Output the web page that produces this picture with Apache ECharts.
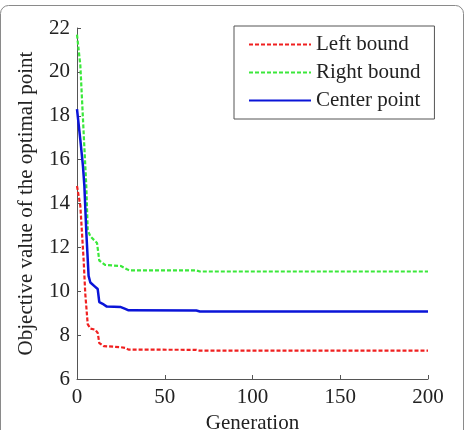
<!DOCTYPE html>
<html>
<head>
<meta charset="utf-8">
<script src="https://cdn.jsdelivr.net/npm/echarts@6/dist/echarts.min.js"></script>
<style>
  html, body { margin: 0; padding: 0; background: #fff; }
  #chart { width: 467px; height: 430px; }
</style>
</head>
<body>
<div id="chart"></div>
<script>
// values
const leftGen = [0, 1.9, 3.8, 4.7, 6.1, 7.6, 10.4, 11.8, 12.7, 15.2, 25, 27.5, 29.4, 68, 70, 200];
const leftVal = [14.8, 13.9, 11.4, 9.9, 8.5, 8.3, 8.25, 8.1, 7.64, 7.5, 7.45, 7.42, 7.34, 7.33, 7.29, 7.29];

const rightGen = [0, 1.9, 3.8, 5.3, 6.1, 7.6, 11.4, 12.7, 16, 25, 28.5, 30, 68, 70, 200];
const rightVal = [21.7, 20.3, 17.2, 14.8, 12.8, 12.5, 12.2, 11.4, 11.2, 11.15, 11.0, 10.95, 10.95, 10.9, 10.9];

const centerGen = [0, 1.9, 3.4, 4.2, 5.3, 6.6, 7.6, 10.4, 11.8, 12.7, 15.2, 17, 25, 27.5, 29.4, 68, 70, 200];
const centerVal = [18.3, 16.9, 15.7, 14.8, 12.7, 10.7, 10.4, 10.2, 10.1, 9.5, 9.4, 9.3, 9.28, 9.2, 9.13, 9.12, 9.08, 9.08];

const seriesNames = ['Left bound', 'Right bound', 'Center point'];

const pairs = (xs, ys) => xs.map((x, i) => [x, ys[i]]);

const font = 'Liberation Serif';
const chart = echarts.init(document.getElementById('chart'));

chart.setOption({
  animation: false,
  backgroundColor: '#fff',
  graphic: [{
    type: 'rect',
    shape: { x: 0.5, y: 5.5, width: 463, height: 440, r: 8 },
    style: { fill: 'none', stroke: '#8a8a8a', lineWidth: 1 },
    silent: true
  }],
  grid: { left: 77, right: 39, top: 28, bottom: 51, outerBoundsMode: 'none' },
  legend: {
    orient: 'vertical',
    left: 234,
    top: 26,
    width: 199,
    padding: [8, 14, 8, 14],
    itemGap: 7,
    itemWidth: 62,
    itemHeight: 10,
    itemStyle: { opacity: 0 },
    borderColor: '#555',
    borderWidth: 1,
    backgroundColor: '#fff',
    textStyle: { fontFamily: font, fontSize: 21, color: '#222' },
    data: seriesNames
  },
  xAxis: {
    type: 'value',
    min: 0, max: 200, interval: 50,
    name: 'Generation',
    nameLocation: 'middle',
    nameGap: 34,
    nameTextStyle: { fontFamily: font, fontSize: 21, color: '#222' },
    axisLine: { lineStyle: { color: '#555', width: 1 } },
    axisTick: { inside: true, length: 4, lineStyle: { color: '#555' } },
    axisLabel: { fontFamily: font, fontSize: 21, color: '#222', margin: 8 },
    splitLine: { show: false }
  },
  yAxis: {
    type: 'value',
    min: 6, max: 22, interval: 2,
    name: 'Objective value of the optimal point',
    nameLocation: 'middle',
    nameGap: 40,
    nameTextStyle: { fontFamily: font, fontSize: 21, color: '#222' },
    axisLine: { show: true, lineStyle: { color: '#555', width: 1 } },
    axisTick: { show: true, inside: true, length: 4, lineStyle: { color: '#555' } },
    axisLabel: { fontFamily: font, fontSize: 21, color: '#222', margin: 7 },
    splitLine: { show: false }
  },
  series: [
    {
      name: seriesNames[0],
      type: 'line',
      symbol: 'none',
      data: pairs(leftGen, leftVal),
      itemStyle: { color: '#f02020' },
      lineStyle: { color: '#f02020', width: 2.2, type: [4, 2] },
      z: 2
    },
    {
      name: seriesNames[1],
      type: 'line',
      symbol: 'none',
      data: pairs(rightGen, rightVal),
      itemStyle: { color: '#3be83b' },
      lineStyle: { color: '#3be83b', width: 2.2, type: [4, 2] },
      z: 3
    },
    {
      name: seriesNames[2],
      type: 'line',
      symbol: 'none',
      data: pairs(centerGen, centerVal),
      itemStyle: { color: '#0a14d8' },
      lineStyle: { color: '#0a14d8', width: 2.5 },
      z: 4
    }
  ]
});
</script>
</body>
</html>
